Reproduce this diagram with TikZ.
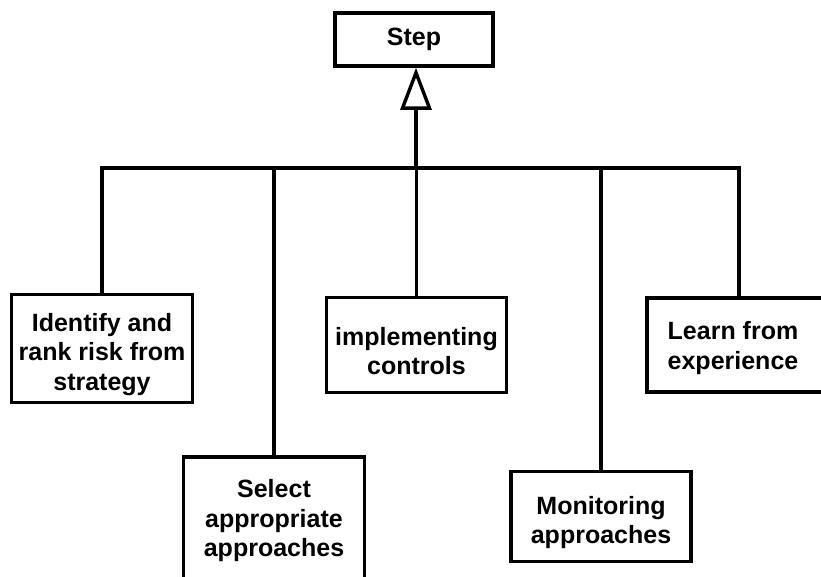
\documentclass[tikz,border=0pt]{standalone}
\usepackage{fontspec}
\setmainfont{Liberation Sans}
\usetikzlibrary{calc,arrows.meta}
% invisible strut that pushes a box's text block downwards
\newcommand\dropby[1]{\rule{0pt}{\dimexpr18.2pt+2\dimexpr#1\relax\relax}}
\begin{document}
\begin{tikzpicture}[x=1pt,y=-1pt,
  box/.style={draw, line width=3.6pt, rectangle, align=center, inner sep=0pt,
    font=\fontsize{25}{29.5}\selectfont\bfseries},
  link/.style={draw, line width=3.6pt},
  gen/.style={-{Triangle[open, length=42pt, width=31pt, line width=3.4pt]}}]
\useasboundingbox (0,0) rectangle (821,576);

% parent
\node[box, minimum width=158pt, minimum height=53pt] (step) at (414,39.5) {Step};

% children
\node[box, minimum width=181pt, minimum height=108pt] (b1) at (102,348.5)
  {\dropby{6pt}Identify and\\rank risk from\\strategy};
\node[box, minimum width=181pt, minimum height=128pt] (b2) at (274,521)
  {Select\\appropriate\\approaches};
\node[box, minimum width=180pt, minimum height=95pt] (b3) at (416.5,345)
  {\dropby{6pt}implementing\\controls};
\node[box, minimum width=180pt, minimum height=90pt] (b4) at (601,516.5)
  {\dropby{6pt}Monitoring\\approaches};
\node[box, minimum width=184pt, minimum height=94pt] (b5) at (739,345)
  {\dropby{3pt}\hspace*{-12pt}Learn from\\\hspace*{-12pt}experience};

% tree connectors
\coordinate (bar) at (416,168);
\draw[link] (b1.north) |- (b5.north |- bar) -- (b5.north);
\draw[link] (b2.north) -- (b2.north |- bar);
\draw[link] (b3.north) -- (b3.north |- bar);
\draw[link] (b4.north) -- (b4.north |- bar);
\draw[link, gen] (bar) -- (bar |- step.south);
\end{tikzpicture}
\end{document}
